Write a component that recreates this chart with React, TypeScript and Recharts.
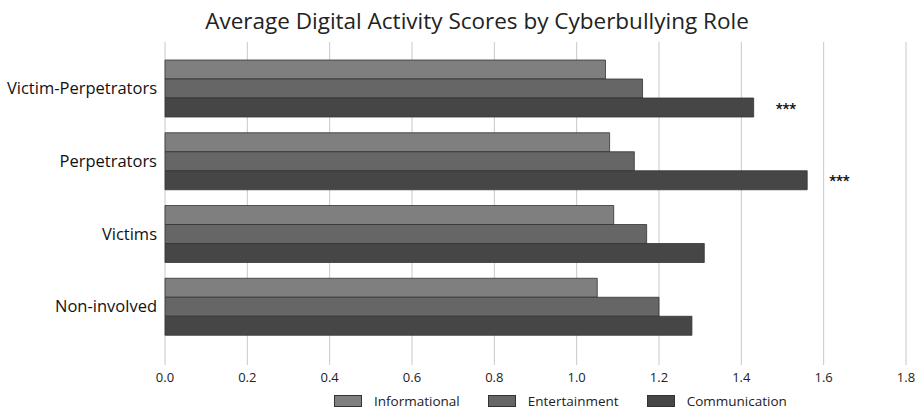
import React from "react";
import {
  BarChart,
  Bar,
  XAxis,
  YAxis,
  CartesianGrid,
  Legend,
  LabelList,
} from "recharts";

const roles = ["Victim-Perpetrators", "Perpetrators", "Victims", "Non-involved"];
const informational = [1.07, 1.08, 1.09, 1.05];
const entertainment = [1.16, 1.14, 1.17, 1.2];
const communication = [1.43, 1.56, 1.31, 1.28];
const significance = ["***", "***", "", ""];
const xTicks = [0, 0.2, 0.4, 0.6, 0.8, 1.0, 1.2, 1.4, 1.6, 1.8];

const series = [
  { key: "informational", name: "Informational", color: "#7f7f7f" },
  { key: "entertainment", name: "Entertainment", color: "#666666" },
  { key: "communication", name: "Communication", color: "#464646" },
];

const data = roles.map((role, i) => ({
  role,
  informational: informational[i],
  entertainment: entertainment[i],
  communication: communication[i],
  sig: significance[i],
}));

const FONT = "'Open Sans', Roboto, sans-serif";

function SigLabel(props: any) {
  const { x, y, width, height, index } = props;
  const txt = significance[index];
  if (!txt) return null;
  return (
    <text
      x={x + width + 22}
      y={y + height / 2 + 6}
      fontSize={15}
      fontWeight="bold"
      fill="#111"
      fontFamily="Roboto, sans-serif"
    >
      {txt}
    </text>
  );
}

function LegendContent() {
  return (
    <div style={{ display: "flex", alignItems: "center", fontFamily: FONT, fontSize: 13.5, color: "#222" }}>
      {series.map((s) => (
        <div key={s.key} style={{ display: "flex", alignItems: "center", marginRight: 28 }}>
          <span
            style={{
              display: "inline-block",
              width: 26,
              height: 10,
              background: s.color,
              border: "1px solid #333",
              marginRight: 12,
            }}
          />
          <span>{s.name}</span>
        </div>
      ))}
    </div>
  );
}

export default function App() {
  return (
    <div style={{ position: "absolute", left: 0, top: 0, width: 918, height: 409, background: "#fff" }}>
      <div
        style={{
          position: "absolute",
          top: 6,
          left: 0,
          width: 954,
          textAlign: "center",
          fontFamily: FONT,
          fontSize: 22.5,
          lineHeight: "30px",
          color: "#222",
        }}
      >
        Average Digital Activity Scores by Cyberbullying Role
      </div>
      <BarChart
        width={918}
        height={409}
        data={data}
        layout="vertical"
        margin={{ top: 42, right: 12, left: 0, bottom: 0 }}
        barCategoryGap="11%"
        barGap={0}
      >
        <CartesianGrid horizontal={false} stroke="#c8c8c8" />
        <XAxis
          type="number"
          domain={[0, 1.8]}
          ticks={xTicks}
          tickFormatter={(v: number) => v.toFixed(1)}
          axisLine={false}
          tickLine={false}
          height={22}
          tick={{ fontSize: 13, fill: "#222", fontFamily: FONT }}
        />
        <YAxis
          type="category"
          dataKey="role"
          width={165}
          axisLine={false}
          tickLine={false}
          padding={{ top: 10, bottom: 22 }}
          tick={{ fontSize: 16.5, fill: "#111", fontFamily: FONT }}
        />
        <Legend
          verticalAlign="bottom"
          content={<LegendContent />}
          wrapperStyle={{ left: 334, width: 540, height: 22, bottom: -5 }}
        />
        {series.map((s) => (
          <Bar
            key={s.key}
            dataKey={s.key}
            name={s.name}
            fill={s.color}
            stroke="#333"
            strokeWidth={0.8}
            isAnimationActive={false}
          >
            {s.key === "communication" && <LabelList dataKey="sig" content={<SigLabel />} />}
          </Bar>
        ))}
      </BarChart>
    </div>
  );
}
